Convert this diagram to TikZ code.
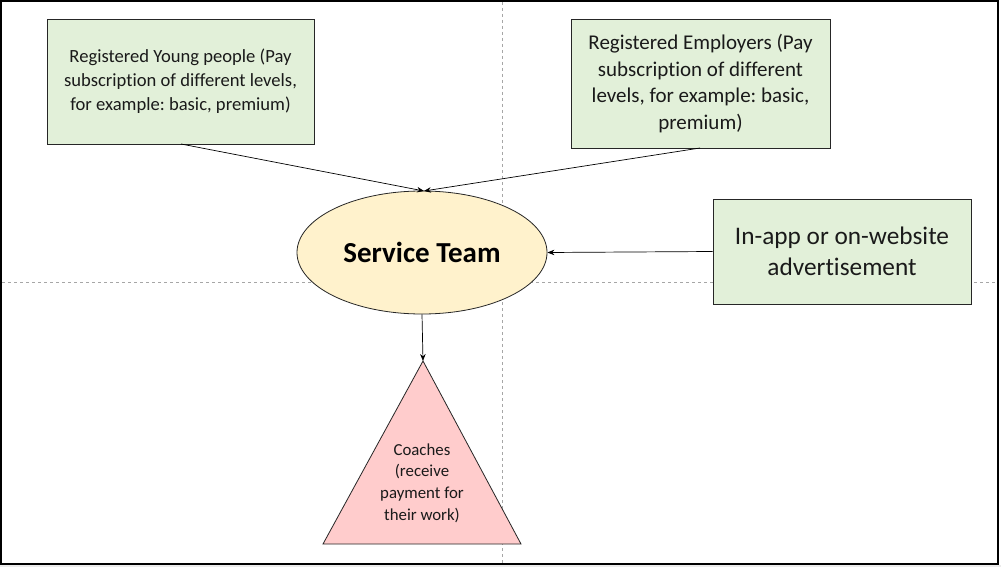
\documentclass[tikz,border=0pt]{standalone}
\usepackage{fontspec}
\setmainfont{Carlito}[Ligatures={NoCommon}]
\usetikzlibrary{shapes.geometric,arrows.meta}
\definecolor{boxgreen}{HTML}{E2F0D9}
\definecolor{ellyellow}{HTML}{FFF2CC}
\definecolor{tripink}{HTML}{FFCCCC}
\definecolor{guidegray}{HTML}{A6A6A6}
\definecolor{txt}{HTML}{1A1A1A}
\frenchspacing
\begin{document}
\begin{tikzpicture}[x=1pt,y=-1pt,
  greenbox/.style={draw=black!85,fill=boxgreen,line width=0.8pt,align=center,inner sep=0pt,text=txt},
  conn/.style={draw=black,line width=0.7pt,-{Stealth[length=7pt,width=5.5pt]}},
  guide/.style={draw=guidegray,line width=0.6pt,dash pattern=on 3pt off 3pt}]
\useasboundingbox (0,0) rectangle (1001,567);
\fill[white] (0,0) rectangle (1001,567);
\fill[black!8] (0,565) rectangle (1001,567);
% guide lines
\draw[guide] (502,2) -- (502,563);
\draw[guide] (2,282) -- (997,282);
% boxes
\node[greenbox,minimum width=267pt,minimum height=125pt,font=\fontsize{18.6}{24}\selectfont] (young) at (180.5,81.5)
  {Registered Young people (Pay\\subscription of different levels,\\for example: basic, premium)};
\node[greenbox,minimum width=259pt,minimum height=129pt,font=\fontsize{21}{26.7}\selectfont] (employ) at (700.5,83.5)
  {Registered Employers (Pay\\subscription of different\\levels, for example: basic,\\premium)};
\node[greenbox,minimum width=258pt,minimum height=105pt,font=\fontsize{25.3}{31}\selectfont] (advert) at (842,251.5)
  {In-app or on-website\\advertisement};
\node[ellipse,draw=black!85,fill=ellyellow,line width=0.8pt,minimum width=250pt,minimum height=123pt,inner sep=0pt,font=\fontsize{29}{32}\selectfont\bfseries] (service) at (422,252.5)
  {Service Team};
% triangle
\coordinate (apex) at (423,361);
\coordinate (bl) at (323,544);
\coordinate (br) at (521,544);
\filldraw[fill=tripink,draw=black!85,line width=0.8pt] (apex) -- (br) -- (bl) -- cycle;
\node[align=center,inner sep=0pt,text=txt,font=\fontsize{16.8}{21.7}\selectfont] (coaches) at (422,483)
  {Coaches\\(receive\\payment for\\their work)};
% connectors
\coordinate (yout) at (181,144);
\coordinate (eout) at (700,148);
\coordinate (stop) at (424,191);
\draw[conn] (yout) -- (stop);
\draw[conn] (eout) -- (stop);
\draw[conn] (advert.west) -- (service.east);
\draw[conn] (service.south) -- (apex);
% outer frame
\draw[black,line width=2pt] (1,1) rectangle (998,564);
\end{tikzpicture}
\end{document}
